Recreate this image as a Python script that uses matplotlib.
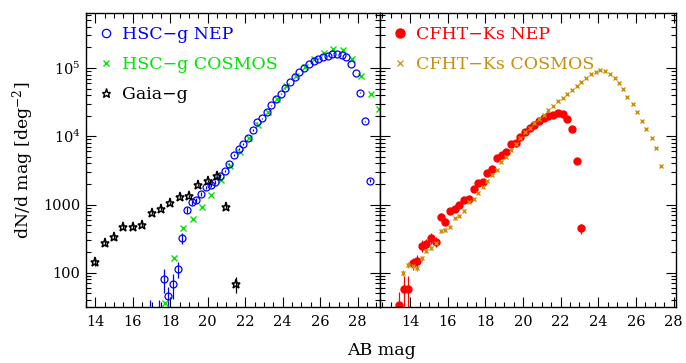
import numpy as np
import matplotlib
matplotlib.use('Agg')
import matplotlib.pyplot as plt
import matplotlib.ticker as ticker
from matplotlib.lines import Line2D

plt.rcParams['font.family'] = ['DejaVu Serif']
plt.rcParams['mathtext.fontset'] = 'dejavuserif'

# ---- HSC-g NEP (open circles) ----
g_nep_mag = [16.9, 17.4, 17.65, 17.9, 18.15, 18.4, 18.65, 18.9, 19.15, 19.4, 19.65, 19.9,
             20.15, 20.4, 20.65, 20.9, 21.15, 21.4, 21.65, 21.9, 22.15, 22.4, 22.65, 22.9,
             23.15, 23.4, 23.65, 23.9, 24.15, 24.4, 24.65, 24.9, 25.15, 25.4, 25.65, 25.9,
             26.15, 26.4, 26.65, 26.9, 27.15, 27.4, 27.65, 27.9, 28.15, 28.4, 28.65]
g_nep_n = [15, 15, 81, 46, 69, 114, 323, 830, 1080, 1160, 1440, 1780,
           1950, 2150, 2620, 3100, 3900, 5340, 6530, 7760, 9360, 12350, 16100, 18400,
           22800, 28500, 34800, 42200, 50400, 62600, 74900, 86900, 100000, 114000, 126000, 137000,
           146000, 152000, 159000, 159000, 154000, 144000, 114000, 84000, 43600, 16700, 2240]
g_nep_err = [25, 25, 31, 17, 28, 31, 55, 80, 90, 95, 100, 110,
             120, 120, 130, 140, 160, 190, 210, 230, 250, 290, 330, 350,
             400, 440, 490, 540, 590, 660, 720, 780, 830, 890, 930, 970,
             1000, 1020, 1050, 1050, 1030, 1000, 890, 770, 550, 340, 130]

# ---- HSC-g COSMOS (crosses) ----
g_cos_mag = [17.7, 18.2, 18.7, 19.2, 19.7, 20.2, 20.7, 21.2, 21.7, 22.2, 22.7, 23.2,
             23.7, 24.2, 24.7, 25.2, 25.7, 26.2, 26.7, 27.2, 27.7, 28.2, 28.7, 29.15]
g_cos_n = [36, 164, 450, 611, 934, 1370, 2300, 3720, 5970, 9300, 14700, 22900,
           34800, 55000, 76000, 105000, 135000, 165000, 188000, 184000, 135000, 76000, 42000, 25000]

# ---- Gaia-g (stars) ----
gaia_mag = [14.0, 14.5, 15.0, 15.5, 16.0, 16.5, 17.0, 17.5, 18.0, 18.5, 19.0, 19.5, 20.0, 20.5, 21.0, 21.5]
gaia_n = [146, 272, 332, 467, 477, 505, 762, 866, 1050, 1310, 1340, 1940, 2220, 2580, 925, 69]
gaia_err = [20, 25, 28, 33, 33, 34, 42, 45, 50, 55, 56, 67, 72, 78, 46, 19]

# ---- CFHT-Ks NEP (filled circles) ----
k_nep_mag = [13.42, 13.65, 13.9, 14.13, 14.39, 14.62, 14.87, 15.11, 15.36, 15.62, 15.87, 16.12,
             16.37, 16.61, 16.86, 17.12, 17.37, 17.62, 17.86, 18.1, 18.36, 18.62, 18.87, 19.1,
             19.37, 19.61, 19.86, 20.11, 20.35, 20.6, 20.86, 21.11, 21.35, 21.6, 21.85, 22.11,
             22.36, 22.59, 22.86, 23.08]
k_nep_n = [34, 58, 58, 139, 151, 251, 266, 322, 287, 667, 564, 816,
           855, 990, 1170, 1200, 1700, 2050, 2130, 2940, 3350, 4800, 5340, 5970,
           7760, 8100, 9700, 11500, 13100, 14700, 16900, 18400, 19900, 20600, 21700, 21000,
           18000, 12600, 4400, 451]
k_nep_err = [19, 32, 32, 28, 30, 48, 45, 55, 50, 80, 70, 85,
             85, 90, 100, 100, 120, 130, 130, 150, 160, 190, 200, 210,
             240, 250, 270, 290, 310, 330, 350, 370, 380, 390, 400, 390,
             360, 300, 180, 75]

# ---- CFHT-Ks COSMOS (small crosses) ----
k_cos_mag = [13.63, 13.88, 14.13, 14.38, 14.62, 14.87, 15.11, 15.36, 15.62, 15.87, 16.12, 16.37,
             16.61, 16.86, 17.12, 17.37, 17.62, 17.86, 18.1, 18.36, 18.62, 18.85, 19.1, 19.37,
             19.61, 19.86, 20.11, 20.35, 20.6, 20.86, 21.11, 21.35, 21.6, 21.85, 22.11, 22.36,
             22.6, 22.85, 23.1, 23.35, 23.6, 23.86, 24.09, 24.35, 24.62, 24.88, 25.1, 25.32,
             25.55, 25.84, 26.06, 26.33, 26.56, 26.83, 27.05, 27.32]
k_cos_n = [101, 131, 124, 117, 164, 210, 234, 278, 412, 426, 477, 632,
           690, 816, 1080, 1210, 1470, 1830, 2220, 2700, 3230, 4270, 5050, 6300,
           7620, 9600, 11500, 13400, 15500, 17800, 20500, 24300, 27900, 32400, 36500, 41300,
           48000, 55000, 62300, 71600, 81900, 88400, 93000, 91600, 81900, 71600, 60000, 49000,
           38000, 29500, 22900, 16900, 12900, 9360, 6720, 3720]
k_cos_err = [10, 12, 12, 11, 14, 16, 17, 19, 24, 24, 26, 30,
             32, 35, 40, 42, 46, 52, 57, 63, 69, 79, 86, 96,
             106, 118, 130, 140, 150, 160, 170, 190, 200, 220, 230, 245,
             265, 280, 300, 320, 340, 355, 365, 360, 340, 320, 295, 265,
             235, 205, 180, 155, 135, 115, 100, 75]

font = 10.5
col_blue = '#0000ff'; col_green = '#00e600'; col_red = '#ff0000'; col_gold = '#c8900a'

fig = plt.figure(figsize=(6.86, 3.63), dpi=100)
ax1 = fig.add_axes([86/686, 56/363, 294/686, 294/363])
ax2 = fig.add_axes([380/686, 56/363, 296/686, 294/363])

def yfmt(v, pos):
    if v < 5000:
        return "%d" % v
    return r"$10^{%d}$" % int(round(np.log10(v)))

for ax in (ax1, ax2):
    ax.set_yscale('log')
    ax.set_ylim(31.6, 6.4e5)
    plt.setp(ax.spines.values(), linewidth=1)
    ax.tick_params(direction='in', length=7, width=0.8, which='major', top=True, right=True,
                   labelsize=font, pad=6)
    ax.tick_params(direction='in', length=3.5, width=0.8, which='minor', top=True, right=True)
    ax.xaxis.set_major_locator(ticker.MultipleLocator(2))
    ax.xaxis.set_minor_locator(ticker.MultipleLocator(0.5))
    ax.yaxis.set_major_locator(ticker.LogLocator(base=10, numticks=10))
    ax.yaxis.set_minor_locator(ticker.LogLocator(base=10, subs=np.arange(2, 10), numticks=20))
    ax.yaxis.set_minor_formatter(ticker.NullFormatter())

ax1.tick_params(axis='y', which='major', pad=4)
ax1.yaxis.set_major_formatter(ticker.FuncFormatter(yfmt))
ax2.yaxis.set_major_formatter(ticker.NullFormatter())
ax1.set_xlim(13.5, 29.2)
ax2.set_xlim(12.4, 28.13)

# left panel
ax1.errorbar(g_nep_mag, g_nep_n, yerr=g_nep_err, fmt='o', ms=5, mfc='none', mec=col_blue,
             mew=0.9, ecolor=col_blue, elinewidth=0.9, capsize=0)
ax1.plot(g_cos_mag, g_cos_n, 'x', ms=4, mec=col_green, mew=1.0)
ax1.errorbar(gaia_mag, gaia_n, yerr=gaia_err, fmt='*', ms=6.5, mfc='none', mec='k', mew=1.1,
             ecolor='k', elinewidth=0.9, capsize=0)
hl1 = [Line2D([], [], ls='none', marker='o', ms=6, mfc='none', mec=col_blue, mew=0.9),
       Line2D([], [], ls='none', marker='x', ms=4, mec=col_green, mew=1.0),
       Line2D([], [], ls='none', marker='*', ms=6.5, mfc='none', mec='k', mew=1.0)]
leg1 = ax1.legend(hl1, ['HSC\u2212g NEP', 'HSC\u2212g COSMOS', 'Gaia\u2212g'], loc='upper left',
                  frameon=False, fontsize=12.5, numpoints=1, handlelength=0.8,
                  handletextpad=0.55, labelspacing=0.75, borderaxespad=0.3, borderpad=0.45)
for t, c in zip(leg1.get_texts(), [col_blue, col_green, 'k']):
    t.set_color(c)

# right panel
ax2.errorbar(k_nep_mag, k_nep_n, yerr=k_nep_err, fmt='o', ms=5, mfc=col_red, mec=col_red,
             ecolor=col_red, elinewidth=0.9, capsize=0)
ax2.errorbar(k_cos_mag, k_cos_n, yerr=k_cos_err, fmt='x', ms=3.2, mec=col_gold, mew=1.0,
             ecolor=col_gold, elinewidth=0.8, capsize=0)
hl2 = [Line2D([], [], ls='none', marker='o', ms=6.5, mfc=col_red, mec=col_red),
       Line2D([], [], ls='none', marker='x', ms=4.5, mec=col_gold, mew=0.9)]
leg2 = ax2.legend(hl2, ['CFHT\u2212Ks NEP', 'CFHT\u2212Ks COSMOS'], loc='upper left',
                  frameon=False, fontsize=12.5, numpoints=1, handlelength=0.8,
                  handletextpad=0.55, labelspacing=0.75, borderaxespad=0.3, borderpad=0.45)
for t, c in zip(leg2.get_texts(), [col_red, col_gold]):
    t.set_color(c)

ax1.set_ylabel(r'dN/d mag [deg$^{-2}$]', fontsize=12.5, labelpad=5)
fig.text(381/686, 0.035, 'AB mag', ha='center', va='center', fontsize=12.5)

plt.savefig('out.png', dpi=100)
